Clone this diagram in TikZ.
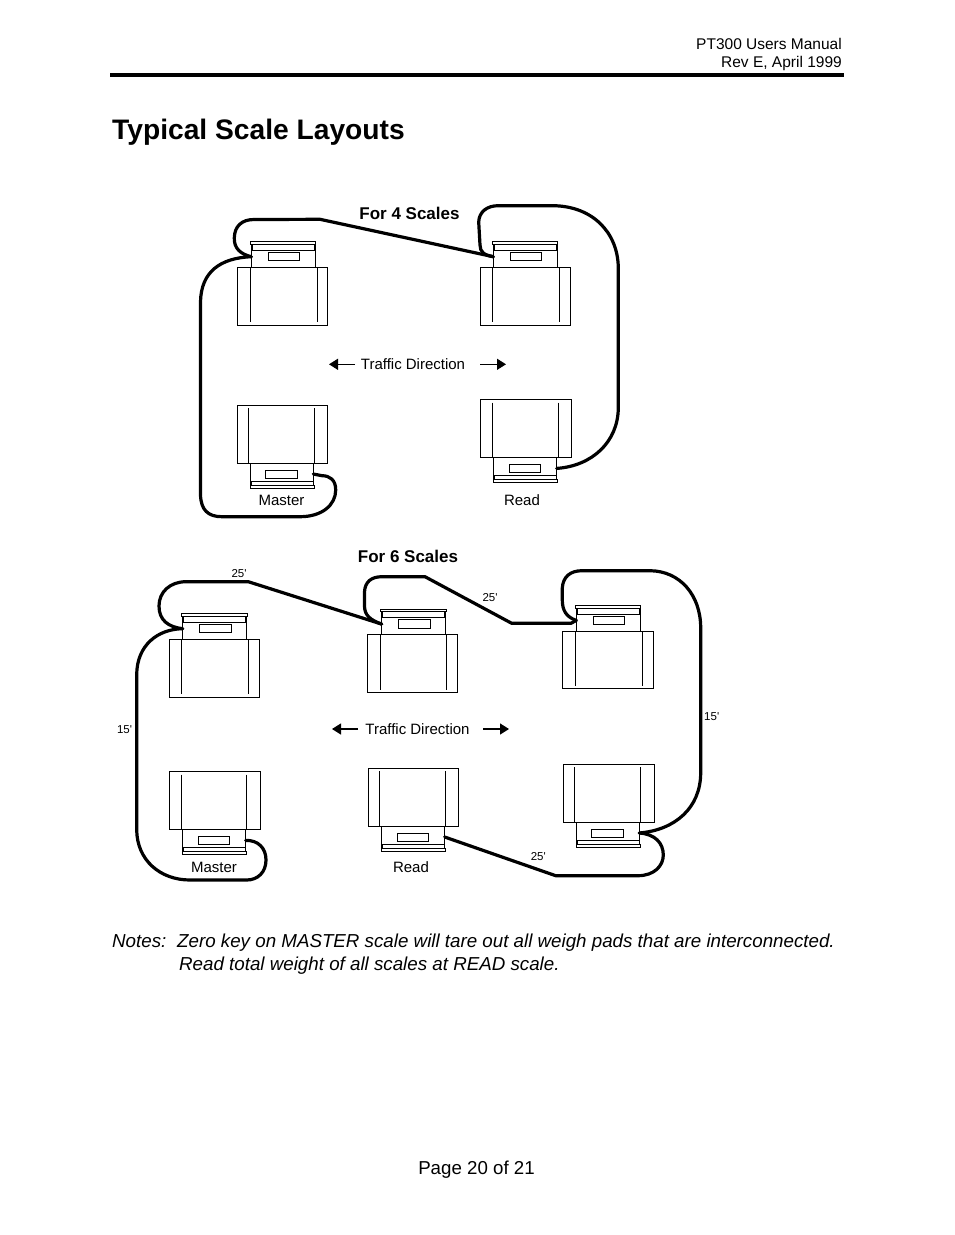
\documentclass[tikz,border=0pt]{standalone}
\usepackage{fontspec}
\setmainfont{Liberation Sans}
\newfontfamily\dimfont{Liberation Sans}
\usetikzlibrary{arrows.meta}
\newcommand{\fs}[1]{\fontsize{#1pt}{#1pt}\selectfont}
\tikzset{
  x=1pt,y=-1pt,
  part/.style={draw=black,line width=1pt,fill=white},
  partline/.style={draw=black,line width=1pt},
  wire/.style={draw=black,line width=3.2pt,line join=round,line cap=round},
  flow/.style={draw=black,line width=1.3pt,-{Triangle[length=9pt,width=11pt]}},
  lbl/.style={inner sep=0pt,anchor=base,font=\fs{15}},
  head/.style={inner sep=0pt,anchor=base,font=\fs{17}\bfseries},
  dim/.style={inner sep=0pt,anchor=base,font=\dimfont\fs{11.5}},
  page/.style={inner sep=0pt,font=\fs{18.7}},
}
% name, rx, ry, rw, head offset, line1, line2
\newcommand{\ScaleUp}[7]{%
  \begin{scope}[shift={(#2,#3)}]
    \draw[part] (0,0) rectangle (#4,57.7);
    \draw[partline] (#6,0) -- (#6,55) (#7,0) -- (#7,55);
    \draw[part] (#5,-23) rectangle ({#5+64},0);
    \draw[part] ({#5-1},-25.5) rectangle ({#5+64.5},-23);
    \draw[part] ({#5+1},-23) rectangle ({#5+63},-17);
    \draw[part] ({#5+17},-15) rectangle ({#5+48.5},-6.5);
    \coordinate (#1-port) at (#5,-10.6);
  \end{scope}}
\newcommand{\ScaleDown}[7]{%
  \begin{scope}[shift={(#2,#3)}]
    \draw[part] (0,0) rectangle (#4,57.7);
    \draw[partline] (#6,3) -- (#6,57.7) (#7,3) -- (#7,57.7);
    \draw[part] (#5,57.7) rectangle ({#5+63},79.7);
    \draw[part] ({#5+15.5},65) rectangle ({#5+47},73);
    \draw[part] ({#5+1},75.7) rectangle ({#5+63},79.7);
    \draw[part] (#5,79.7) rectangle ({#5+64},83.2);
    \coordinate (#1-port) at ({#5+63},68.7);
  \end{scope}}
\begin{document}
\begin{tikzpicture}
\useasboundingbox (0,0) rectangle (954,1235);
\fill[white] (0,0) rectangle (954,1235);
% page furniture
\node[inner sep=0pt,anchor=base east,font=\fs{15.5}] (hdra) at (842,49) {PT300 Users Manual};
\node[inner sep=0pt,anchor=base east,font=\fs{15.5}] (hdrb) at (842,67) {Rev E, April 1999};
\fill[black] (110,72.5) rectangle (844,77);
\node[inner sep=0pt,anchor=base west,font=\fs{28.2}\bfseries] (title) at (112,139) {Typical Scale Layouts};
% 4 scales
\ScaleUp{a}{237.3}{267.3}{90.4}{14}{13}{79.7}
\ScaleUp{b}{480.7}{267.3}{89.3}{12.6}{12}{78.6}
\ScaleDown{c}{237.3}{405.3}{90.4}{13}{10.7}{77.4}
\ScaleDown{d}{480.7}{399.7}{90.6}{13}{12}{77.6}
\node[head] (t4) at (409.5,219) {For 4 Scales};
\node[lbl] (td4) at (413,369) {Traffic Direction};
\node[lbl] (m4) at (281.5,505.5) {Master};
\node[lbl] (r4) at (522,505.5) {Read};
\coordinate (l4a) at (355,364.3); \coordinate (l4b) at (329,364.3);
\coordinate (r4a) at (480,364.3); \coordinate (r4b) at (506,364.3);
\draw[flow] (l4a) -- (l4b);
\draw[flow] (r4a) -- (r4b);
\draw[wire] (a-port) .. controls (240,254) and (234,248) .. (234.3,238)
  .. controls (234.5,226) and (242,219.5) .. (254,219.5) -- (320,219.3) -- (b-port);
\draw[wire] (a-port) .. controls (220,258) and (201,272) .. (200.5,302)
  -- (200.5,495) .. controls (201,510) and (208,516.7) .. (222,516.7)
  -- (300,516.7) .. controls (322,516.7) and (335.7,505) .. (335.7,490)
  .. controls (335.7,480) and (330,475.7) .. (322,475.7) -- (c-port);
\draw[wire] (b-port) .. controls (484,255) and (480,252) .. (480,245)
  -- (478.7,222) .. controls (479,212) and (487,205.7) .. (498,205.7)
  -- (553,205.7) .. controls (592,206) and (618,232) .. (618.3,268)
  -- (618.3,408) .. controls (618,442) and (592,466) .. (d-port);
% 6 scales
\ScaleUp{e}{169.3}{639.3}{89.7}{13.4}{12}{79}
\ScaleUp{f}{367.3}{634.7}{90.4}{14.4}{13.4}{79}
\ScaleUp{g}{562.7}{631}{90.3}{13.6}{12.7}{79.3}
\ScaleDown{h}{169.3}{771.7}{90.7}{13.4}{12}{77.3}
\ScaleDown{i}{368.7}{768.3}{90}{13}{10.3}{76.3}
\ScaleDown{j}{563.7}{764.3}{90.3}{12.6}{10.3}{77}
\node[head] (t6) at (408,562) {For 6 Scales};
\node[lbl] (td6) at (417.5,734) {Traffic Direction};
\node[lbl] (m6) at (214,872) {Master};
\node[lbl] (r6) at (411,872) {Read};
\coordinate (l6a) at (358,729); \coordinate (l6b) at (332,729);
\coordinate (r6a) at (483,729); \coordinate (r6b) at (509,729);
\draw[flow] (l6a) -- (l6b);
\draw[flow] (r6a) -- (r6b);
\node[dim] (d1) at (239,577) {25'};
\node[dim] (d2) at (124.5,733) {15'};
\node[dim] (d3) at (490,601.5) {25'};
\node[dim] (d4) at (538.3,860.5) {25'};
\node[dim] (d5) at (711.7,720) {15'};
\draw[wire] (e-port) .. controls (168,627) and (159,620) .. (159,606)
  .. controls (159,592) and (170,581.7) .. (186,581.7) -- (248.3,581.7) -- (f-port);
\draw[wire] (e-port) .. controls (158,629) and (136.7,645) .. (136.7,675)
  -- (136.7,830) .. controls (137,860) and (160,880) .. (190,880)
  -- (246.7,880) .. controls (258,880) and (266,872) .. (266,860)
  .. controls (266,848) and (258,840) .. (h-port);
\draw[wire] (f-port) .. controls (370,620) and (364.5,615) .. (364.5,606)
  -- (364.5,592) .. controls (365,582) and (371,576.7) .. (382,576.7)
  -- (425,576.7) -- (511.7,623.3) -- (571,623.3) -- (g-port);
\draw[wire] (g-port) .. controls (566,617) and (562.3,610) .. (562.3,600)
  -- (562.3,588) .. controls (563,577) and (570,570.7) .. (582,570.7)
  -- (650,570.7) .. controls (680,571) and (700.7,595) .. (700.7,628)
  -- (700.7,773) .. controls (700.5,808) and (675,830) .. (j-port);
\draw[wire] (i-port) -- (555.7,875.7) -- (638,875.7)
  .. controls (654,875.7) and (663.3,866) .. (663.3,855)
  .. controls (663.3,843) and (655,834) .. (j-port);
% notes
\node[page,inner sep=0pt,anchor=base west,font=\fs{18.75}\itshape] (n0) at (112,947) {Notes:};
\node[page,inner sep=0pt,anchor=base west,font=\fs{18.75}\itshape] (n1) at (177,947) {Zero key on MASTER scale will tare out all weigh pads that are interconnected.};
\node[page,inner sep=0pt,anchor=base west,font=\fs{18.75}\itshape] (n2) at (179,970) {Read total weight of all scales at READ scale.};
\node[page,anchor=base] (pg) at (476.5,1174) {Page 20 of 21};
\end{tikzpicture}
\end{document}
